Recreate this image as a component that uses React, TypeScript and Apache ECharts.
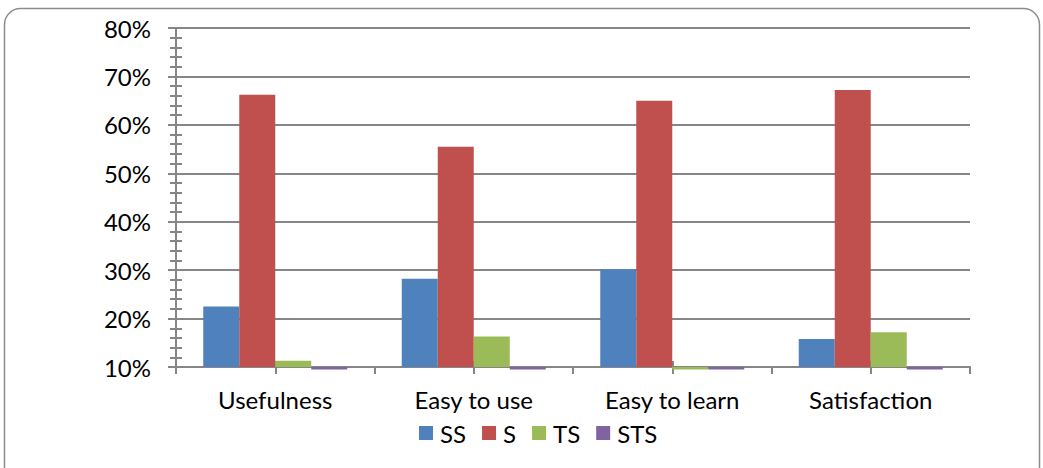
import React, { useEffect, useRef } from "react";
import * as echarts from "echarts";

const categories = ["Usefulness", "Easy to use", "Easy to learn", "Satisfaction"];
const seriesNames = ["SS", "S", "TS", "STS"];
const ssValues = [22.5, 28.2, 30.2, 15.8];
const sValues = [66.2, 55.5, 65.0, 67.2];
const tsValues = [11.3, 16.3, 9.5, 17.2];
const stsValues = [9.5, 9.5, 9.5, 9.5];
const colors = ["#4F81BD", "#C0504D", "#9BBB59", "#8064A2"];
const yMin = 10;
const yMax = 80;
const yInterval = 10;

const FONT = "Lato";
const GRAY = "#868686";
const FS = 24;

export default function App() {
  const ref = useRef<HTMLDivElement>(null);
  useEffect(() => {
    document.body.style.margin = "0";
    if (!ref.current) return;
    const chart = echarts.init(ref.current, null, { renderer: "svg" });
    const values = [ssValues, sValues, tsValues, stsValues];
    chart.setOption({
      animation: false,
      backgroundColor: "#fff",
      textStyle: { fontFamily: FONT },
      grid: { left: 176, right: 73, top: 28, bottom: 101, containLabel: false },
      graphic: [
        {
          type: "rect",
          shape: { x: 4.5, y: 8.5, width: 1035, height: 480, r: 16 },
          style: { fill: "none", stroke: "#8c8c8c", lineWidth: 1.5 },
          silent: true,
          z: -1,
        },
      ],
      legend: {
        data: seriesNames,
        left: 414,
        top: 416,
        icon: "rect",
        itemWidth: 14,
        itemHeight: 14,
        itemGap: 16,
        textStyle: { fontFamily: FONT, fontSize: FS, color: "#000", padding: [0, 0, 0, 2] },
      },
      xAxis: [
        {
          type: "category",
          data: categories,
          axisLine: { show: true, lineStyle: { color: GRAY, width: 2 } },
          axisTick: { show: true, length: 7, lineStyle: { color: GRAY, width: 2 } },
          axisLabel: { fontFamily: FONT, fontSize: FS, color: "#000", margin: 20, interval: 0 },
          splitLine: { show: false },
        },
        {
          type: "category",
          data: categories,
          position: "bottom",
          offset: -6,
          axisLine: { show: false },
          axisTick: { show: true, alignWithLabel: true, length: 13, lineStyle: { color: GRAY, width: 2 } },
          axisLabel: { show: false },
          splitLine: { show: false },
        },
      ],
      yAxis: [
        {
          type: "value",
          min: yMin,
          max: yMax,
          interval: yInterval,
          startValue: yMin,
          axisLine: { show: true, lineStyle: { color: GRAY, width: 2 } },
          axisTick: { show: true, length: 8, lineStyle: { color: GRAY, width: 2 } },
          axisLabel: {
            fontFamily: FONT,
            fontSize: FS,
            color: "#000",
            margin: 25,
            formatter: (v: number) => `${v}%`,
          },
          splitLine: { show: true, lineStyle: { color: GRAY, width: 2 } },
        },
        {
          type: "value",
          min: yMin,
          max: yMax,
          interval: yInterval,
          position: "left",
          offset: -6,
          axisLine: { show: false },
          axisTick: { show: false },
          minorTick: { show: true, splitNumber: 5, length: 12, lineStyle: { color: GRAY, width: 2 } },
          axisLabel: { show: false },
          splitLine: { show: false },
        },
      ],
      series: seriesNames.map((name, i) => ({
        name,
        type: "bar",
        data: values[i],
        xAxisIndex: 0,
        yAxisIndex: 0,
        barWidth: 36,
        barGap: "0%",
        clip: false,
        itemStyle: { color: colors[i] },
      })),
    });
    return () => chart.dispose();
  }, []);
  return <div ref={ref} style={{ width: 1043, height: 468 }} />;
}
